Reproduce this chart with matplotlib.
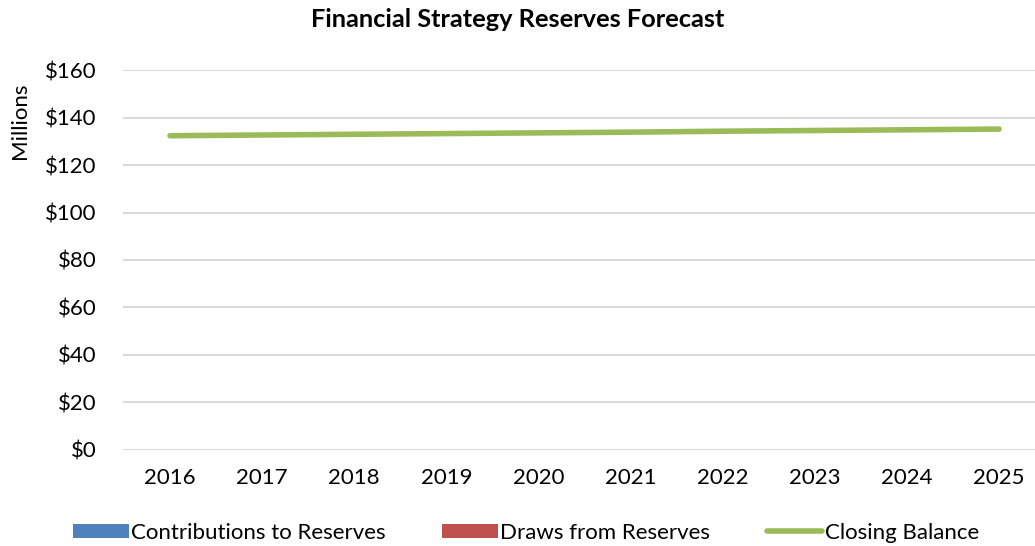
import matplotlib.pyplot as plt
import numpy as np

years = ['2016', '2017', '2018', '2019', '2020', '2021', '2022', '2023', '2024', '2025']
contributions = [0, 0, 0, 0, 0, 0, 0, 0, 0, 0]
draws = [0, 0, 0, 0, 0, 0, 0, 0, 0, 0]
closing = [132.4, 132.7, 133.0, 133.3, 133.6, 133.9, 134.3, 134.6, 134.9, 135.2]
y_ticks = [0, 20, 40, 60, 80, 100, 120, 140, 160]

plt.rcParams['font.family'] = ['Lato', 'DejaVu Sans']

fig = plt.figure(figsize=(10.35, 5.46), dpi=100)
ax = fig.add_axes([123 / 1035, 96.5 / 546, 912 / 1035, 379.2 / 546])

x = np.arange(len(years))
w = 0.3
b1 = ax.bar(x - w / 2, contributions, w, color='#4F81BD', label='Contributions to Reserves', zorder=2)
b2 = ax.bar(x + w / 2, draws, w, color='#C0504D', label='Draws from Reserves', zorder=2)
ln, = ax.plot(x, closing, color='#9BBB59', lw=4, solid_capstyle='round', label='Closing Balance', zorder=3)

# plot is clipped on the right, last category sits near the edge
ax.set_xlim(-0.51, 9.39)
ax.set_ylim(0, 160)
ax.set_yticks(y_ticks)
ax.set_yticklabels(['${}'.format(v) for v in y_ticks], fontsize=16)
ax.set_xticks(x)
ax.set_xticklabels(years, fontsize=16)
ax.tick_params(length=0)
ax.tick_params(axis='x', pad=13)
ax.tick_params(axis='y', pad=19)
ax.grid(axis='y', color='#D9D9D9', lw=1.5, zorder=0)
for s in ax.spines.values():
    s.set_visible(False)

ax.set_ylabel('Millions', fontsize=16)
ax.yaxis.set_label_coords(-0.102, 0.866)
fig.suptitle('Financial Strategy Reserves Forecast', fontsize=18.3, fontweight='bold', y=0.985)

ax.legend([b1, b2, ln], [b1.get_label(), b2.get_label(), ln.get_label()],
          loc='center', bbox_to_anchor=(0.442, -0.22), ncol=3, frameon=False,
          fontsize=16, handlelength=2.5, handleheight=0.6, columnspacing=2.55, handletextpad=0.1)

fig.savefig('out.png', dpi=100)
